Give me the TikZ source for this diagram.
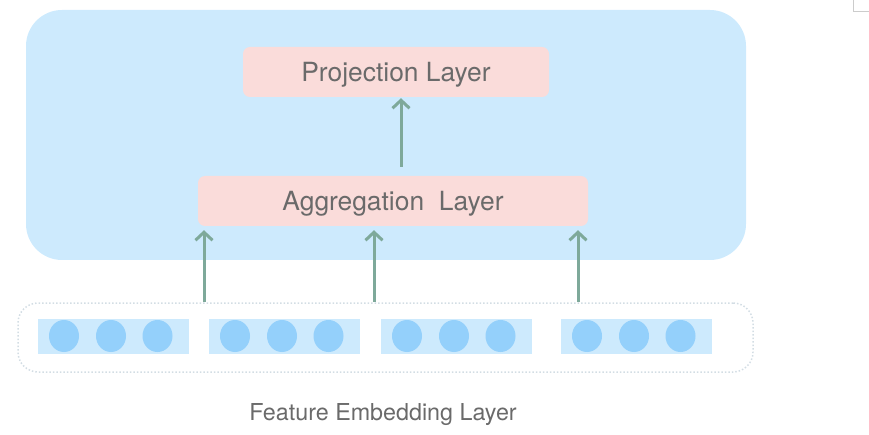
\documentclass[tikz,border=0pt]{standalone}
\usepackage{fontspec}
\setmainfont{TeX Gyre Heros}
\usetikzlibrary{arrows.meta,shapes.geometric}
\definecolor{bgblue}{HTML}{CDEAFD}
\definecolor{pinkbox}{HTML}{FADCDA}
\definecolor{dotblue}{HTML}{94D0FB}
\definecolor{arrowgreen}{HTML}{7EA99A}
\definecolor{txtgray}{HTML}{6A6A6A}
\definecolor{dotline}{HTML}{D3DDE4}
\tikzset{
  layerbox/.style={fill=pinkbox, rounded corners=7pt, inner sep=0pt, text=txtgray, font=\fontsize{26.4}{30}\selectfont, text height=19pt, text depth=0pt},
  grp/.style={fill=bgblue, minimum width=151pt, minimum height=35pt, inner sep=0pt},
  emb/.style={fill=dotblue, ellipse, minimum width=30pt, minimum height=32pt, inner sep=0pt},
  arr/.style={draw=arrowgreen, line width=3pt, -{Straight Barb[length=8pt,width=17pt,line width=3pt]}},
}
\begin{document}
\begin{tikzpicture}[x=1pt,y=-1pt]
\useasboundingbox (0,0) rectangle (869,435);
% crop mark
\draw[black!20, line width=1pt] (853,0) -- (853,12) -- (869,12);
% outer blue panel
\node[fill=bgblue, rounded corners=36pt, minimum width=720pt, minimum height=250pt, inner sep=0pt] (panel) at (386,135) {};
% layer boxes
\node[layerbox, minimum width=306pt, minimum height=50pt] (proj) at (396,72) {Projection Layer};
\node[layerbox, minimum width=390pt, minimum height=50pt] (agg) at (393,201) {Aggregation\ \ Layer};
% embedding container
\node[draw=dotline, dotted, line width=1.5pt, rounded corners=20pt, minimum width=735pt, minimum height=69pt, inner sep=0pt] (embox) at (385.5,337.5) {};
% feature groups
\foreach \i/\x in {1/38,2/209,3/381,4/561}{
  \node[grp, anchor=west] (g\i) at (\x,336) {};
  \node[emb] (c\i a) at (\x+26,336) {};
  \node[emb] (c\i b) at (\x+73,336) {};
  \node[emb] (c\i c) at (\x+119.5,336) {};
}
% label
\node[text=txtgray, font=\fontsize{23.3}{27}\selectfont, inner sep=0pt, text height=17pt, text depth=0pt] (lab) at (383,412) {Feature Embedding Layer};
% arrows
\coordinate (pstart) at (401,167);
\draw[arr, shorten >=1pt] (pstart) -- (proj.south -| pstart);
\foreach \k/\x in {1/204,2/374,3/578}{
  \coordinate (s\k) at (\x,302);
  \draw[arr, shorten >=4pt] (s\k) -- (agg.south -| s\k);
}
\end{tikzpicture}
\end{document}
